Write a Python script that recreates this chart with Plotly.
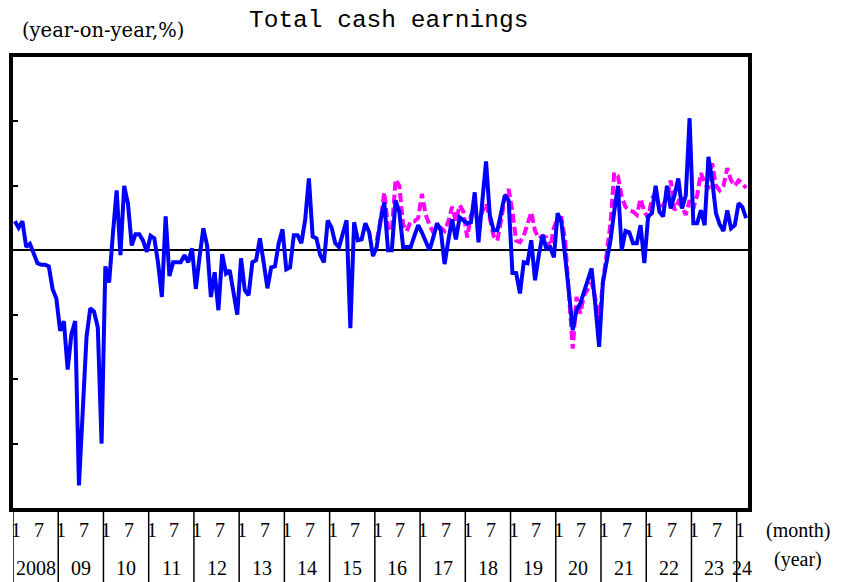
import plotly.graph_objects as go

# Monthly series, Jan 2008 - Mar 2024 (year-on-year, %)
total_cash = [
    0.9, 0.7, 0.9, 0.1, 0.2, -0.1, -0.4, -0.45, -0.45, -0.5, -1.2, -1.5,      # 2008
    -2.5, -2.2, -3.7, -2.6, -2.2, -7.3, -5.0, -2.7, -1.8, -1.9, -2.4, -6.0,   # 2009
    -0.5, -1.0, 0.5, 1.86, -0.15, 2.0, 1.45, 0.15, 0.5, 0.5, 0.3, -0.05,      # 2010
    0.45, 0.37, -0.4, -1.45, 1.05, -0.8, -0.37, -0.37, -0.37, -0.15, -0.37, 0.06,  # 2011
    -1.2, -0.2, 0.68, 0.15, -1.45, -0.68, -1.86, -0.12, -0.72, -0.62, -1.25, -2.0, # 2012
    -0.25, -1.24, -1.4, -0.37, -0.31, 0.37, -0.37, -1.18, -0.53, -0.5, 0.22, 0.65, # 2013
    -0.59, -0.53, 0.47, 0.47, 0.22, 0.93, 2.23, 0.43, 0.37, -0.15, -0.37, 0.93,   # 2014
    0.71, 0.22, 0.1, 0.5, 0.93, -2.42, 0.87, 0.31, 0.34, 0.84, 0.56, -0.18,       # 2015
    0.1, 0.93, 1.49, 0.0, 0.0, 1.55, 1.18, 0.1, 0.1, 0.1, 0.45, 0.78,             # 2016
    0.55, 0.31, 0.0, 0.4, 0.84, 0.62, -0.43, 0.31, 0.96, 0.34, 1.02, 0.93,        # 2017
    0.84, 0.87, 1.8, 0.25, 1.5, 2.76, 1.09, 0.62, 0.62, 1.2, 1.71, 1.55,          # 2018
    -0.7, -0.71, -1.34, -0.37, -0.4, 0.31, -0.93, -0.15, 0.47, 0.05, 0.1, -0.22,  # 2019
    1.15, 0.87, -0.1, -1.3, -2.48, -1.86, -1.65, -1.3, -0.95, -0.56, -1.7, -3.0,  # 2020
    -1.0, -0.3, 0.3, 1.2, 2.0, 0.0, 0.6, 0.56, 0.22, 0.22, 0.78, -0.4,            # 2021
    1.05, 1.15, 2.0, 1.2, 1.05, 2.0, 1.3, 1.71, 2.23, 1.3, 1.71, 4.1,             # 2022
    0.84, 0.84, 1.24, 0.78, 2.9, 2.17, 1.15, 0.8, 0.6, 1.24, 0.68, 0.78,          # 2023
    1.46, 1.34, 1.0,                                                              # 2024
]

# Second series (dashed), Jan 2016 - Mar 2024
common_sample_start = 96  # month index of Jan 2016
common_sample = [
    0.3, 0.9, 1.8, 0.7, 0.6, 2.2, 2.0, 0.8, 0.6, 0.9, 0.9, 1.0,       # 2016
    1.75, 1.1, 0.8, 0.55, 0.7, 0.7, 0.6, 0.9, 1.35, 0.9, 1.4, 1.2,    # 2017
    0.4, 1.1, 1.2, 0.9, 1.2, 1.45, 1.0, 0.45, 0.3, 1.0, 1.6, 1.9,     # 2018
    1.2, 0.3, 0.25, 0.45, 0.8, 1.18, 0.6, 0.37, 0.45, 0.4, 0.05, 0.7, # 2019
    1.0, 1.0, 0.3, -1.2, -3.05, -1.45, -1.96, -1.4, -1.2, -1.0, -1.5, -2.2,  # 2020
    -1.0, 0.0, 0.8, 2.4, 2.3, 1.65, 1.35, 1.25, 1.2, 1.1, 1.6, 1.2,   # 2021
    1.0, 1.6, 1.8, 1.3, 1.4, 1.65, 2.17, 1.24, 1.5, 1.34, 1.1, 1.55,  # 2022
    1.3, 1.7, 2.4, 2.1, 1.9, 2.7, 2.0, 1.86, 2.0, 2.55, 2.17, 2.0,    # 2023
    2.17, 2.08, 1.93,                                                 # 2024
]

year_labels = ["2008", "09", "10", "11", "12", "13", "14", "15", "16",
               "17", "18", "19", "20", "21", "22", "23", "24"]
month_labels = ["1", "7"]
month_label_offsets = [0, 6]

x_total = list(range(len(total_cash)))
x_common = list(range(common_sample_start, common_sample_start + len(common_sample)))
x_max = len(total_cash) - 0.5

fig = go.Figure()
fig.add_trace(go.Scatter(
    x=x_common, y=common_sample, mode="lines",
    line=dict(color="#FF00FF", width=4, dash="9px,4px"),
    showlegend=False, hoverinfo="skip"))
fig.add_trace(go.Scatter(
    x=x_total, y=total_cash, mode="lines",
    line=dict(color="#0000FF", width=4),
    showlegend=False, hoverinfo="skip"))

W, H = 850, 582
ML, MT = 13, 57
plot_w, plot_h = 735, 451
MR = W - ML - plot_w
MB = H - MT - plot_h

serif = "Liberation Serif"
annotations = []
shapes = []
for k, yl in enumerate(year_labels):
    start = 12 * k
    shapes.append(dict(type="line", xref="x", yref="paper",
                       x0=start - 0.5, x1=start - 0.5, y0=0, y1=-(MB / plot_h),
                       line=dict(color="black", width=1.5)))
    for lab, off in zip(month_labels, month_label_offsets):
        if start + off <= len(total_cash) - 1:
            annotations.append(dict(x=start + off + 0.3, y=-(22 / plot_h), xref="x", yref="paper",
                                    text=lab, showarrow=False, xanchor="center", yanchor="middle",
                                    font=dict(family=serif, size=20, color="black")))
    end = min(start + 11.5, x_max)
    annotations.append(dict(x=(start - 0.5 + end) / 2, y=-(60 / plot_h), xref="x", yref="paper",
                            text=yl, showarrow=False, xanchor="center", yanchor="middle",
                            font=dict(family=serif, size=20, color="black")))

annotations += [
    dict(x=(798 - 13) / plot_w, y=-(22 / plot_h), xref="paper", yref="paper", text="(month)",
         showarrow=False, xanchor="center", yanchor="middle",
         font=dict(family=serif, size=20, color="black")),
    dict(x=(798 - 13) / plot_w, y=-(51 / plot_h), xref="paper", yref="paper", text="(year)",
         showarrow=False, xanchor="center", yanchor="middle",
         font=dict(family=serif, size=20, color="black")),
    dict(x=(388 - 13) / plot_w, y=1 + (57 - 21) / plot_h, xref="paper", yref="paper",
         text="Total cash earnings", showarrow=False, xanchor="center", yanchor="middle",
         font=dict(family="Liberation Mono", size=24.5, color="black")),
    dict(x=(103 - 13) / plot_w, y=1 + (57 - 30) / plot_h, xref="paper", yref="paper",
         text="(year-on-year,%)", showarrow=False, xanchor="center", yanchor="middle",
         font=dict(family="DejaVu Serif", size=19.5, color="black")),
]

fig.update_layout(
    width=W, height=H,
    margin=dict(l=ML, r=MR, t=MT, b=MB),
    paper_bgcolor="white", plot_bgcolor="white",
    annotations=annotations, shapes=shapes,
    xaxis=dict(range=[-0.5, x_max], showticklabels=False, ticks="", showgrid=False,
               zeroline=False, showline=True, linecolor="black", linewidth=4, mirror=True),
    yaxis=dict(range=[-8, 6], dtick=2, tick0=0, showticklabels=False, ticks="inside",
               ticklen=5, tickwidth=1.5, tickcolor="black", showgrid=False,
               zeroline=True, zerolinecolor="black", zerolinewidth=1.5,
               showline=True, linecolor="black", linewidth=4, mirror=True),
)

fig.write_html(
    "out.html",
    config={"displayModeBar": False},
    post_script="document.body.style.margin='0';document.body.style.overflow='hidden';",
)
